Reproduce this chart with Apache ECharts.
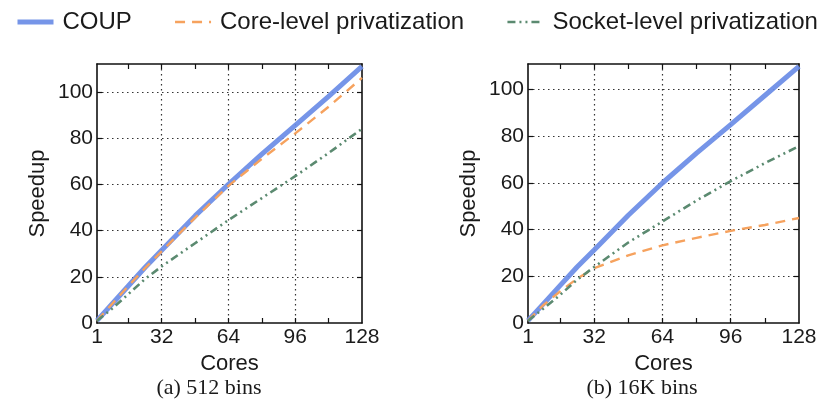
<!DOCTYPE html>
<html>
<head>
<meta charset="utf-8">
<script src="https://cdn.jsdelivr.net/npm/echarts@6/dist/echarts.min.js"></script>
<style>html,body{margin:0;padding:0;background:#fff}#c{width:836px;height:410px}</style>
</head>
<body>
<div id="c"></div>
<script>
// ---- data ----
const cores = [1, 8, 16, 24, 32, 48, 64, 80, 96, 112, 128];
const coupA   = [1, 8, 16, 24, 31.5, 46.3, 60, 73, 85.5, 98, 111];
const coreA   = [1, 8, 16, 23.7, 31, 45.5, 59.3, 71, 82, 93.5, 106];
const socketA = [1, 6, 12.5, 19, 24.5, 34.5, 44.5, 54, 63.5, 73.5, 84];
const coupB   = [1, 8, 16, 24, 31.3, 46.2, 60, 72.8, 85, 97.5, 110];
const coreB   = [1, 7.5, 13.5, 19, 23.5, 29, 33.3, 36.5, 39.5, 42, 45];
const socketB = [1, 6, 12, 18.5, 24, 34.5, 43.5, 52.5, 60.8, 68.5, 75.8];
const xLabels = [1, 32, 64, 96, 128];
const xTicks = [16, 32, 48, 64, 80, 96, 112];
const xGrid = [32, 64, 96];
const yLabels = [0, 20, 40, 60, 80, 100];
const yTicks = [20, 40, 60, 80, 100];
const seriesNames = ['COUP', 'Core-level privatization', 'Socket-level privatization'];
const captions = ['(a) 512 bins', '(b) 16K bins'];

const pairs = (ys) => cores.map((c, i) => [c, ys[i]]);
const txt = '#1a1a1a';
const font = 'Liberation Sans, Arial, sans-serif';
const boxLine = { show: true, onZero: false, lineStyle: { color: '#111', width: 1.6 } };
const dotted = { show: true, lineStyle: { color: '#333', width: 1.2, type: [1.5, 3.5] } };

const grids = [
  { left: 97, top: 64, width: 265, height: 259 },
  { left: 528, top: 64, width: 271, height: 259 }
];
const yMax = [112, 111];

const xAxis = [], yAxis = [];
grids.forEach((g, gi) => {
  xAxis.push({
    gridIndex: gi, type: 'value', min: 1, max: 128, position: 'bottom',
    axisLine: boxLine,
    axisTick: { show: true, inside: true, length: 5, customValues: xTicks, lineStyle: { color: '#111', width: 1.2 } },
    axisLabel: { customValues: xLabels, color: txt, fontSize: 21, fontFamily: font, margin: 4 },
    splitLine: { show: false },
    name: 'Cores', nameLocation: 'middle', nameGap: 24,
    nameTextStyle: { color: txt, fontSize: 22, fontFamily: font }
  });
  xAxis.push({
    gridIndex: gi, type: 'value', min: 1, max: 128, position: 'top',
    axisLine: boxLine,
    axisTick: { show: true, inside: true, length: 5, customValues: xTicks, lineStyle: { color: '#111', width: 1.2 } },
    axisLabel: { show: false }, splitLine: { show: false }
  });
  xAxis.push({
    gridIndex: gi, type: 'value', min: 1, max: 128, position: 'bottom',
    axisLine: { show: false, onZero: false },
    axisTick: { show: false, customValues: xGrid },
    axisLabel: { show: false }, splitLine: dotted
  });
  yAxis.push({
    gridIndex: gi, type: 'value', min: 0, max: yMax[gi], position: 'left',
    axisLine: boxLine,
    axisTick: { show: true, inside: true, length: 5, customValues: yTicks, lineStyle: { color: '#111', width: 1.2 } },
    axisLabel: { customValues: yLabels, color: txt, fontSize: 21, fontFamily: font, margin: 4 },
    splitLine: dotted,
    name: 'Speedup', nameLocation: 'middle', nameGap: 48,
    nameTextStyle: { color: txt, fontSize: 22, fontFamily: font }
  });
  yAxis.push({
    gridIndex: gi, type: 'value', min: 0, max: yMax[gi], position: 'right',
    axisLine: boxLine,
    axisTick: { show: true, inside: true, length: 5, customValues: yTicks, lineStyle: { color: '#111', width: 1.2 } },
    axisLabel: { show: false }, splitLine: { show: false }
  });
});

const styles = [
  { color: '#6a8ce6', width: 5, type: 'solid', opacity: 0.92 },
  { color: '#f6a25e', width: 2.4, type: [10, 7], opacity: 1 },
  { color: '#5b8a70', width: 2.6, type: [8, 4, 2, 4, 2, 4], opacity: 1 }
];
const dataSets = [[coupA, coreA, socketA], [coupB, coreB, socketB]];
const series = [];
dataSets.forEach((set, gi) => {
  set.forEach((ys, si) => {
    series.push({
      name: seriesNames[si], type: 'line', xAxisIndex: gi * 3, yAxisIndex: gi * 2,
      data: pairs(ys), symbol: 'none', smooth: false, z: 2 + si,
      lineStyle: { color: styles[si].color, width: styles[si].width, type: styles[si].type, opacity: styles[si].opacity },
      itemStyle: { color: styles[si].color }
    });
  });
});

const chart = echarts.init(document.getElementById('c'), null, { renderer: 'canvas' });
chart.setOption({
  animation: false,
  backgroundColor: '#fff',
  grid: grids,
  xAxis, yAxis, series,
  legend: {
    data: seriesNames.map((n, i) => ({
      name: n,
      lineStyle: { color: styles[i].color, width: styles[i].width, type: styles[i].type, opacity: styles[i].opacity }
    })),
    left: 10, top: 5, width: 830, itemWidth: 36, itemHeight: 14, itemGap: 42,
    itemStyle: { opacity: 0 },
    textStyle: { color: txt, fontSize: 24, fontFamily: font, padding: [0, 0, 0, 4] }
  },
  title: [
    { text: captions[0], left: 204, top: 372, textAlign: 'center',
      textStyle: { fontFamily: 'Liberation Serif, serif', fontWeight: 'normal', fontSize: 22, color: txt } },
    { text: captions[1], left: 637, top: 372, textAlign: 'center',
      textStyle: { fontFamily: 'Liberation Serif, serif', fontWeight: 'normal', fontSize: 22, color: txt } }
  ]
});
</script>
</body>
</html>
